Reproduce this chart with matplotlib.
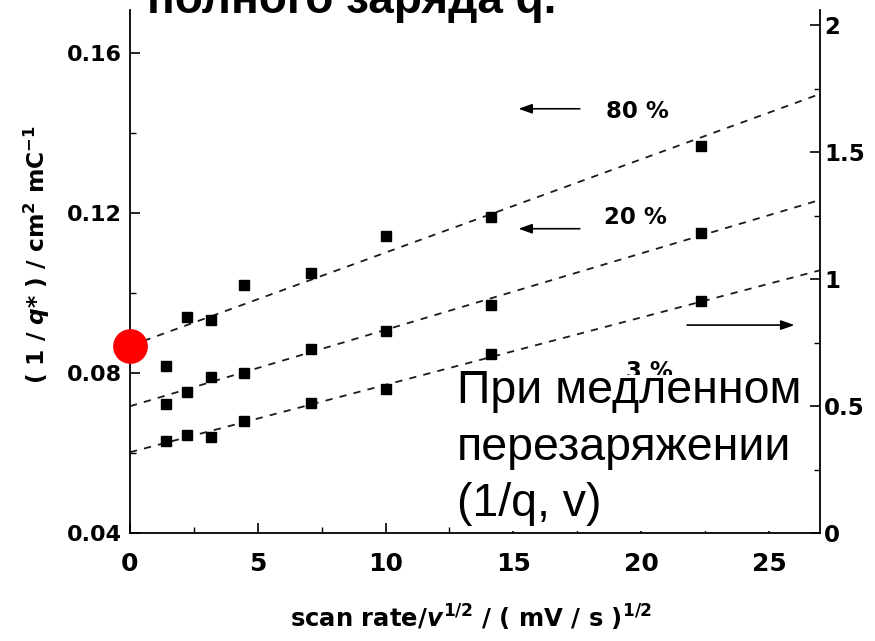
import matplotlib
matplotlib.use('Agg')
import matplotlib.pyplot as plt
from matplotlib.ticker import MultipleLocator
from matplotlib.patches import Rectangle

plt.rcParams['font.family'] = 'DejaVu Sans'
plt.rcParams['font.weight'] = 'bold'
plt.rcParams['mathtext.fontset'] = 'custom'
plt.rcParams['mathtext.rm'] = 'DejaVu Sans:bold'
plt.rcParams['mathtext.it'] = 'DejaVu Sans:italic:bold'
plt.rcParams['mathtext.bf'] = 'DejaVu Sans:bold'

# square root of scan rate, (mV/s)^1/2
scan_rate = [1.41, 2.24, 3.16, 4.47, 7.07, 10.0, 14.14, 22.36]
# 1/q* (cm2 mC-1) for three depths of discharge
q_80 = [0.0817, 0.0940, 0.0932, 0.1021, 0.1050, 0.1142, 0.1190, 0.1367]
q_20 = [0.0723, 0.0753, 0.0790, 0.0800, 0.0861, 0.0904, 0.0969, 0.1150]
q_3 = [0.0630, 0.0644, 0.0639, 0.0679, 0.0725, 0.0761, 0.0848, 0.0980]

# dashed fit lines, values at both ends of the x range
fit_x = [0, 27]
fit_80 = [0.0868, 0.1498]
fit_20 = [0.0717, 0.1233]
fit_3 = [0.0602, 0.1057]

# extrapolated intercept (red dot)
dot_x = [0]
dot_y = [0.0868]

x_ticks = [0, 5, 10, 15, 20, 25]
y_ticks = [0.04, 0.08, 0.12, 0.16]
y2_ticks = [0, 0.5, 1, 1.5, 2]
y2_labels = ['0', '0.5', '1', '1.5', '2']

W, H = 875, 641
fig = plt.figure(figsize=(W / 100, H / 100), dpi=100)
ax = fig.add_axes([130 / W, 1 - 533 / H, 690 / W, 523 / H])
ax2 = ax.twinx()

for fit in (fit_80, fit_20, fit_3):
    ax.plot(fit_x, fit, color='#1a1a1a', lw=1.3, dashes=(4, 4), zorder=1.5)
for q in (q_80, q_20, q_3):
    ax.plot(scan_rate, q, ls='none', marker='s', ms=6.5, color='black',
            zorder=2)

ax.plot(dot_x, dot_y, ls='none', marker='o', ms=24, color='#ff0000',
        clip_on=False, zorder=10)

ax.set_xlim(0, 27)
ax.set_ylim(0.04, 0.1708)
ax2.set_ylim(0, 2.06)

ax.set_xticks(x_ticks)
ax.set_xticklabels([str(t) for t in x_ticks])
ax.xaxis.set_minor_locator(MultipleLocator(2.5))
ax.set_yticks(y_ticks)
ax.set_yticklabels(['%.2f' % t for t in y_ticks])
ax.yaxis.set_minor_locator(MultipleLocator(0.02))
ax2.set_yticks(y2_ticks)
ax2.set_yticklabels(y2_labels)
ax2.yaxis.set_minor_locator(MultipleLocator(0.25))

ax.tick_params(axis='x', which='major', direction='in', length=7, width=1.2,
               pad=14, labelsize=18)
ax.tick_params(axis='x', which='minor', direction='in', length=4, width=1)
ax.tick_params(axis='y', which='major', direction='in', length=7, width=1.2,
               pad=6, labelsize=16)
ax.tick_params(axis='y', which='minor', direction='in', length=4, width=1)
ax2.tick_params(axis='y', which='major', direction='in', length=7, width=1.2,
                pad=3, labelsize=16.5)
ax2.tick_params(axis='y', which='minor', direction='in', length=4, width=1)

ax.spines['top'].set_visible(False)
ax.spines['right'].set_visible(False)
for side in ('top', 'left', 'bottom'):
    ax2.spines[side].set_visible(False)
for sp in ax.spines.values():
    sp.set_linewidth(1.3)
ax2.spines['right'].set_linewidth(1.3)

# labels of the curves
arrow = dict(arrowstyle='-|>,head_length=0.45,head_width=0.16',
             color='black', lw=1.2, mutation_scale=18,
             shrinkA=0, shrinkB=0)
ax.annotate('', xy=(15.2, 0.1461), xytext=(17.6, 0.1461), arrowprops=arrow)
ax.annotate('', xy=(15.2, 0.1161), xytext=(17.6, 0.1161), arrowprops=arrow)
ax.annotate('', xy=(26.0, 0.0920), xytext=(21.8, 0.0920), arrowprops=arrow)
ax.text(18.62, 0.1453, '80 %', fontsize=16.5, va='center', ha='left')
ax.text(18.55, 0.1190, '20 %', fontsize=16.5, va='center', ha='left')
ax.text(19.4, 0.0805, '3 %', fontsize=16.5, va='center', ha='left', zorder=2.1)

# axis titles
fig.text(471 / W, 1 - 618 / H,
         r'scan rate/$v^{1/2}$ / ( mV / s )$^{1/2}$',
         ha='center', va='center', fontsize=17.5)
fig.text(37 / W, 1 - 255 / H,
         r'( 1 / $q$* ) / cm$^2$ mC$^{-1}$',
         ha='center', va='center', rotation=90, fontsize=16.8)

# slide overlay text
fig.text(147 / W, 1 - 12.7 / H, 'полного заряда q.', family='Liberation Sans',
         weight='bold', fontsize=33, va='baseline', ha='left')
ax.add_patch(Rectangle((452 / W, 1 - 531 / H), 360 / W, 156 / H,
                       transform=fig.transFigure, facecolor='white',
                       edgecolor='none', zorder=2.2))
overlay = ['При медленном', 'перезаряжении', '(1/q, v)']
baselines = [403, 460, 516]
for line, yb in zip(overlay, baselines):
    fig.text(457 / W, 1 - yb / H, line, family='Liberation Sans',
             weight='normal', fontsize=33.5, va='baseline', ha='left',
             zorder=2.3)

fig.savefig('out.png', dpi=100)
